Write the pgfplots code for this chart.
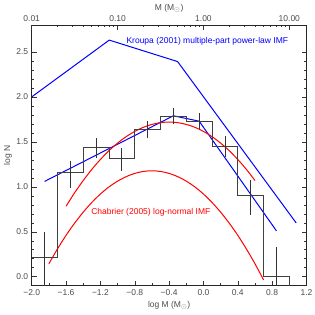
\documentclass[border=0pt]{standalone}
\usepackage{fontspec}
\setmainfont{Liberation Sans}
\usepackage{pgfplots}
\pgfplotsset{compat=1.18}
\begin{document}
\begin{tikzpicture}
\pgfplotsset{
  every axis/.append style={
    at={(0,0)}, anchor=south west,
    width=274.8pt, height=260.7pt, scale only axis,
    ymin=-0.1, ymax=2.8,
    tick align=inside,
    major tick length=5pt, minor tick length=2.5pt,
    tick label style={font=\fontsize{8.5}{10}\selectfont, text=black!70},
    label style={font=\fontsize{8.5}{10}\selectfont, text=black!70},
    every tick/.style={black!80, line width=0.5pt},
    axis line style={black!85},
  }
}
\begin{axis}[
  xmin=-2.0, xmax=1.2,
  xtick={-2.0,-1.6,-1.2,-0.8,-0.4,0.0,0.4,0.8,1.2},
  xticklabels={−2.0,−1.6,−1.2,−0.8,−0.4,0.0,0.4,0.8,1.2},
  minor x tick num=1,
  ytick={0,0.5,1,1.5,2,2.5},
  yticklabels={0.0,0.5,1.0,1.5,2.0,2.5},
  minor y tick num=4,
  xtick pos=left, ytick pos=both,
  xlabel={log M (M$_\odot$)},
  ylabel={log N},
  xlabel style={at={(axis description cs:0.5,-0.0748)}, anchor=center},
  ylabel style={at={(axis description cs:-0.0862,0.5)}, anchor=center},
  clip=true,
]
% Kroupa (2001)
\addplot[blue, line width=1pt] coordinates {(-2.0,2.0) (-1.097,2.632) (-0.301,2.393) (1.08,0.598)};
% broken power-law fit
\addplot[blue, line width=1pt] coordinates {(-1.85,1.06) (-0.35,1.79) (-0.05,1.73) (0.85,0.51)};
% upper log-normal
\addplot[red, line width=1pt, smooth] coordinates {
(-1.6,0.784) (-1.5,0.934) (-1.4,1.070) (-1.3,1.194) (-1.2,1.304) (-1.1,1.402)
(-1.0,1.486) (-0.9,1.558) (-0.8,1.616) (-0.7,1.662) (-0.6,1.694) (-0.5,1.714)
(-0.4,1.720) (-0.3,1.714) (-0.2,1.694) (-0.1,1.662) (0.0,1.616) (0.1,1.558)
(0.2,1.486) (0.3,1.402) (0.4,1.304) (0.5,1.194) (0.6,1.070)};
% Chabrier (2005)
\addplot[red, line width=1pt, smooth] coordinates {
(-1.8,0.144) (-1.7,0.309) (-1.6,0.460) (-1.5,0.596) (-1.4,0.718) (-1.3,0.826)
(-1.2,0.920) (-1.1,0.999) (-1.0,1.063) (-0.9,1.113) (-0.8,1.149) (-0.7,1.171)
(-0.6,1.178) (-0.5,1.171) (-0.4,1.149) (-0.3,1.113) (-0.2,1.063) (-0.1,0.999)
(0.0,0.920) (0.1,0.826) (0.2,0.718) (0.3,0.596) (0.4,0.460) (0.5,0.309)
(0.6,0.144) (0.7,-0.035)};
% histogram
\addplot[const plot, black!75, line width=0.75pt] coordinates {
(-2.0,0.215) (-1.7,1.156) (-1.4,1.438) (-1.1,1.315) (-0.8,1.638) (-0.5,1.789)
(-0.2,1.733) (0.1,1.452) (0.4,0.908) (0.7,0.0) (1.0,0.0) (1.0,-0.1)};
% error bars
\addplot[draw=none, mark=none,
  error bars/.cd, y dir=both, y explicit,
  error bar style={draw=black!80, line width=0.75pt},
  error mark options={draw=black!80, mark size=2.8pt, line width=0.75pt}]
coordinates {
(-1.85,0.215) += (0,0.255) -= (0,0.6)
(-1.55,1.156) += (0,0.104) -= (0,0.136)
(-1.25,1.438) += (0,0.072) -= (0,0.088)
(-0.95,1.315) += (0,0.085) -= (0,0.105)
(-0.65,1.638) += (0,0.062) -= (0,0.068)
(-0.35,1.789) += (0,0.051) -= (0,0.059)
(-0.05,1.733) += (0,0.057) -= (0,0.063)
(0.25,1.452) += (0,0.078) -= (0,0.092)
(0.55,0.908) += (0,0.132) -= (0,0.188)
(0.85,0.0) += (0,0.30) -= (0,0.6)};
\node[blue, font=\fontsize{8.5}{10}\selectfont] at (axis cs:0.045,2.62) {Kroupa (2001) multiple-part power-law IMF};
\node[red, font=\fontsize{8.5}{10}\selectfont] at (axis cs:-0.613,0.72) {Chabrier (2005) log-normal IMF};
\end{axis}
\begin{axis}[
  xmode=log, xmin=0.01, xmax=15.8489,
  axis x line*=top, hide y axis,
  xtick={0.01,0.1,1,10},
  xticklabels={0.01,0.10,1.00,10.00},
  xlabel={M (M$_\odot$)},
  xlabel style={at={(axis description cs:0.5,1.065)}, anchor=center},
]
\addplot[draw=none] coordinates {(0.1,1)};
\end{axis}
\pgfresetboundingbox
\path[use as bounding box] (-31.7pt,-29.3pt) rectangle (283.3pt,285.7pt);
\end{tikzpicture}
\end{document}
